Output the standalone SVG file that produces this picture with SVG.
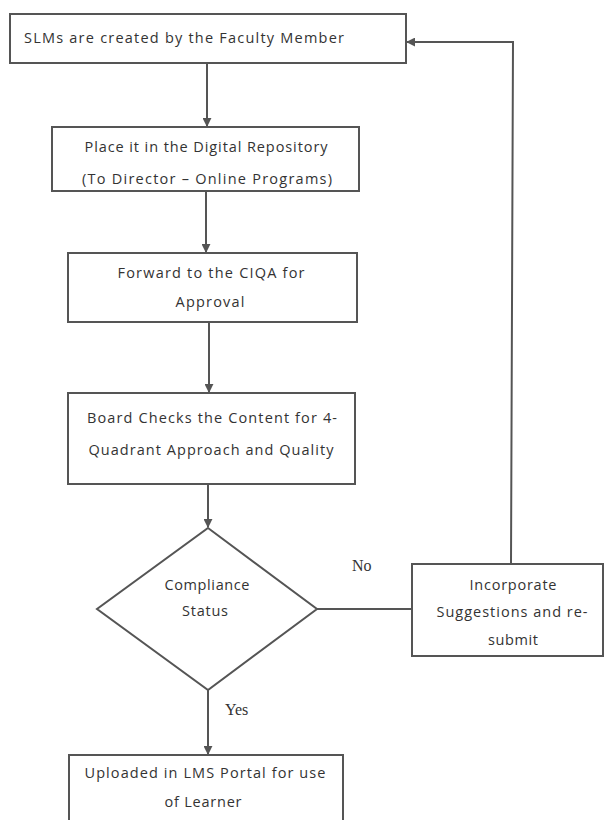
<svg xmlns="http://www.w3.org/2000/svg" width="605" height="820" viewBox="0 0 605 820">
<style>
.box{fill:#fff;stroke:#555;stroke-width:2}
.t{font-family:"Open Sans","Liberation Sans",sans-serif;font-size:14.5px;fill:#333;text-anchor:middle}
.s{font-family:"Liberation Serif","DejaVu Serif",serif;font-size:16px;fill:#333}
.c{fill:none;stroke:#555;stroke-width:2}
</style>
<defs>
<marker id="ah" viewBox="0 0 10 10" refX="9" refY="5" markerWidth="4.5" markerHeight="4.5" orient="auto" markerUnits="strokeWidth">
<path d="M0,0 L10,5 L0,10 z" fill="#555"/>
</marker>
</defs>
<rect width="605" height="820" fill="#fff"/>
<g id="connectors">
<line class="c" x1="207" y1="63" x2="207" y2="126" marker-end="url(#ah)"/>
<line class="c" x1="206" y1="191" x2="206" y2="252" marker-end="url(#ah)"/>
<line class="c" x1="209" y1="322" x2="209" y2="392" marker-end="url(#ah)"/>
<line class="c" x1="208" y1="484" x2="208" y2="527" marker-end="url(#ah)"/>
<line class="c" x1="208" y1="690" x2="208" y2="754" marker-end="url(#ah)"/>
<line class="c" x1="317" y1="609" x2="412" y2="609"/>
<polyline class="c" points="511,564 513,42 407,42" marker-end="url(#ah)"/>
<text class="s" x="352" y="571">No</text>
<text class="s" x="225" y="715" font-size="15">Yes</text>
</g>
<g id="n1">
<rect class="box" x="10" y="14" width="396" height="49"/>
<text class="t" x="24" y="43" style="text-anchor:start" textLength="320">SLMs are created by the Faculty  Member</text>
</g>
<g id="n2">
<rect class="box" x="52" y="127" width="307" height="64"/>
<text class="t" x="206" y="152" textLength="243">Place it in the Digital Repository</text>
<text class="t" x="207" y="184" textLength="250">(To Director – Online Programs)</text>
</g>
<g id="n3">
<rect class="box" x="68" y="253" width="289" height="69"/>
<text class="t" x="211" y="278" textLength="187">Forward to the CIQA for</text>
<text class="t" x="210" y="307" textLength="69">Approval</text>
</g>
<g id="n4">
<rect class="box" x="68" y="393" width="287" height="91"/>
<text class="t" x="212" y="423" textLength="250">Board Checks the Content  for 4-</text>
<text class="t" x="211" y="455" textLength="245">Quadrant Approach and Quality</text>
</g>
<g id="n5">
<polygon class="box" points="208,528 317,609 208,690 97,609"/>
<text class="t" x="207" y="590" textLength="85">Compliance</text>
<text class="t" x="205" y="616" textLength="46">Status</text>
</g>
<g id="n6">
<rect class="box" x="412" y="564" width="191" height="92"/>
<text class="t" x="513" y="590" textLength="87">Incorporate</text>
<text class="t" x="512" y="617" textLength="151">Suggestions and re-</text>
<text class="t" x="513" y="645" textLength="50">submit</text>
</g>
<g id="n7">
<rect class="box" x="69" y="755" width="274" height="75"/>
<text class="t" x="205" y="778" textLength="241">Uploaded in LMS Portal for use</text>
<text class="t" x="203" y="807" textLength="77">of Learner</text>
</g>
</svg>
